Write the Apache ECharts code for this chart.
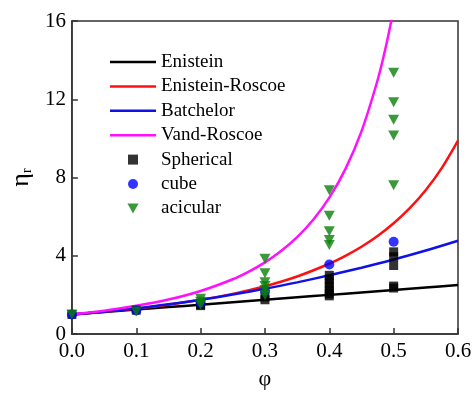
<!DOCTYPE html>
<html>
<head>
<meta charset="utf-8">
<script src="https://cdn.jsdelivr.net/npm/echarts@6/dist/echarts.min.js"></script>
<style>html,body{margin:0;padding:0;background:#fff}#c{width:475px;height:395px}</style>
</head>
<body>
<div id="c"></div>
<script>
// model curves
var phiCurve = [0, 0.05, 0.1, 0.15, 0.2, 0.25, 0.3, 0.35, 0.4, 0.45, 0.5, 0.55, 0.6];
var einstein = [1.0, 1.125, 1.25, 1.375, 1.5, 1.625, 1.75, 1.875, 2.0, 2.125, 2.25, 2.375, 2.5];
var batchelor = [1.0, 1.14, 1.31, 1.52, 1.75, 2.02, 2.31, 2.64, 3.0, 3.39, 3.81, 4.27, 4.77];
var phiRoscoe = [0, 0.05, 0.1, 0.15, 0.2, 0.25, 0.3, 0.35, 0.4, 0.425, 0.45, 0.475, 0.5, 0.525, 0.55, 0.575, 0.6];
var einsteinRoscoe = [1.0, 1.14, 1.30, 1.50, 1.75, 2.05, 2.44, 2.94, 3.59, 3.99, 4.46, 5.01, 5.66, 6.43, 7.36, 8.49, 9.88];
var phiVand = [0, 0.05, 0.1, 0.15, 0.2, 0.25, 0.275, 0.3, 0.325, 0.35, 0.375, 0.4, 0.425, 0.45, 0.475, 0.4875, 0.5];
var vandRoscoe = [1.0, 1.19, 1.44, 1.76, 2.2, 2.8, 3.19, 3.66, 4.24, 4.95, 5.84, 6.97, 8.43, 10.36, 12.97, 14.63, 16.6];

// measured points
var sphericalPhi = [0, 0.1, 0.2, 0.2, 0.3, 0.3, 0.4, 0.4, 0.4, 0.4, 0.4, 0.4, 0.4, 0.5, 0.5, 0.5, 0.5, 0.5];
var sphericalEta = [1.0, 1.22, 1.5, 1.45, 1.75, 1.9, 1.95, 2.05, 2.2, 2.4, 2.6, 2.8, 3.0, 2.35, 2.45, 3.5, 3.95, 4.2];
var cubePhi = [0, 0.1, 0.2, 0.3, 0.4, 0.5];
var cubeEta = [1.0, 1.2, 1.6, 2.2, 3.55, 4.72];
var acicularPhi = [0, 0.1, 0.2, 0.2, 0.2, 0.3, 0.3, 0.3, 0.3, 0.3, 0.3, 0.4, 0.4, 0.4, 0.4, 0.4, 0.5, 0.5, 0.5, 0.5, 0.5];
var acicularEta = [1.0, 1.15, 1.5, 1.65, 1.8, 2.0, 2.25, 2.45, 2.65, 3.1, 3.85, 4.55, 4.8, 5.25, 6.05, 7.35, 7.6, 10.15, 10.95, 11.85, 13.35];

var xTicks = ['0.0', '0.1', '0.2', '0.3', '0.4', '0.5', '0.6'];

function zip(a, b) { return a.map(function (v, i) { return [v, b[i]]; }); }

var FONT = 'Liberation Serif';
var chart = echarts.init(document.getElementById('c'), null, {renderer: 'canvas'});
function lineSeries(name, xs, ys, color) {
  return {
    name: name, type: 'line', data: zip(xs, ys), symbol: 'none', showSymbol: false, smooth: 0.3,
    clip: true, lineStyle: {color: color, width: 2.5}, itemStyle: {color: color}, z: 2
  };
}
var tri = 'path://M0,0 L10,0 L5,9 Z';
var lineIcon = 'path://M0,0 L46,0 L46,2.5 L0,2.5 Z';
var sqIcon = 'path://M0,0 L8,0 L8,8 L0,8 Z';
chart.setOption({
  animation: false,
  backgroundColor: '#fff',
  grid: {left: 62, right: 17, top: 21, bottom: 58, show: true, borderColor: '#333', borderWidth: 1.5},
  legend: {
    orient: 'vertical', left: 105, top: 47, itemWidth: 46, itemHeight: 10, itemGap: 4.4,
    itemTextGap: 5, symbolKeepAspect: true,
    textStyle: {fontFamily: FONT, fontSize: 19, color: '#000', lineHeight: 20},
    data: [
      {name: 'Enistein', icon: lineIcon},
      {name: 'Enistein-Roscoe', icon: lineIcon},
      {name: 'Batchelor', icon: lineIcon},
      {name: 'Vand-Roscoe', icon: lineIcon},
      {name: 'Spherical', icon: sqIcon},
      {name: 'cube', icon: 'circle'},
      {name: 'acicular', icon: tri}
    ]
  },
  xAxis: {
    type: 'value', min: 0, max: 0.6, interval: 0.1,
    name: 'φ', nameLocation: 'middle', nameGap: 34,
    nameTextStyle: {fontFamily: FONT, fontSize: 22, color: '#000'},
    axisLine: {show: true, lineStyle: {color: '#333', width: 1.5}},
    axisTick: {show: true, inside: true, length: 6, lineStyle: {color: '#333', width: 1.5}},
    axisLabel: {fontFamily: FONT, fontSize: 21, color: '#000', margin: 7,
      formatter: function (v) { return xTicks[Math.round(v * 10)]; }},
    splitLine: {show: false}
  },
  yAxis: {
    type: 'value', min: 0, max: 16, interval: 4,
    name: '{a|η}{b|r}', nameLocation: 'middle', nameGap: 32, nameRotate: 90,
    nameTextStyle: {rich: {
      a: {fontFamily: FONT, fontSize: 26, color: '#000'},
      b: {fontFamily: FONT, fontSize: 14, color: '#000', verticalAlign: 'bottom', padding: [12, 0, 0, 0]}
    }},
    axisLine: {show: true, lineStyle: {color: '#333', width: 1.5}},
    axisTick: {show: true, inside: true, length: 6, lineStyle: {color: '#333', width: 1.5}},
    axisLabel: {fontFamily: FONT, fontSize: 21, color: '#000', margin: 6},
    splitLine: {show: false}
  },
  series: [
    lineSeries('Enistein', phiCurve, einstein, '#000000'),
    lineSeries('Enistein-Roscoe', phiRoscoe, einsteinRoscoe, '#ff1010'),
    lineSeries('Batchelor', phiCurve, batchelor, '#1010e8'),
    lineSeries('Vand-Roscoe', phiVand, vandRoscoe, '#ff10ff'),
    {name: 'Spherical', type: 'scatter', data: zip(sphericalPhi, sphericalEta), symbol: 'rect', symbolSize: 9,
      itemStyle: {color: '#000'}, z: 3},
    {name: 'cube', type: 'scatter', data: zip(cubePhi, cubeEta), symbol: 'circle', symbolSize: 10,
      itemStyle: {color: '#0000ff'}, z: 3},
    {name: 'acicular', type: 'scatter', data: zip(acicularPhi, acicularEta), symbol: tri, symbolSize: [11, 10],
      itemStyle: {color: '#0a800a'}, z: 4}
  ]
});
</script>
</body>
</html>
